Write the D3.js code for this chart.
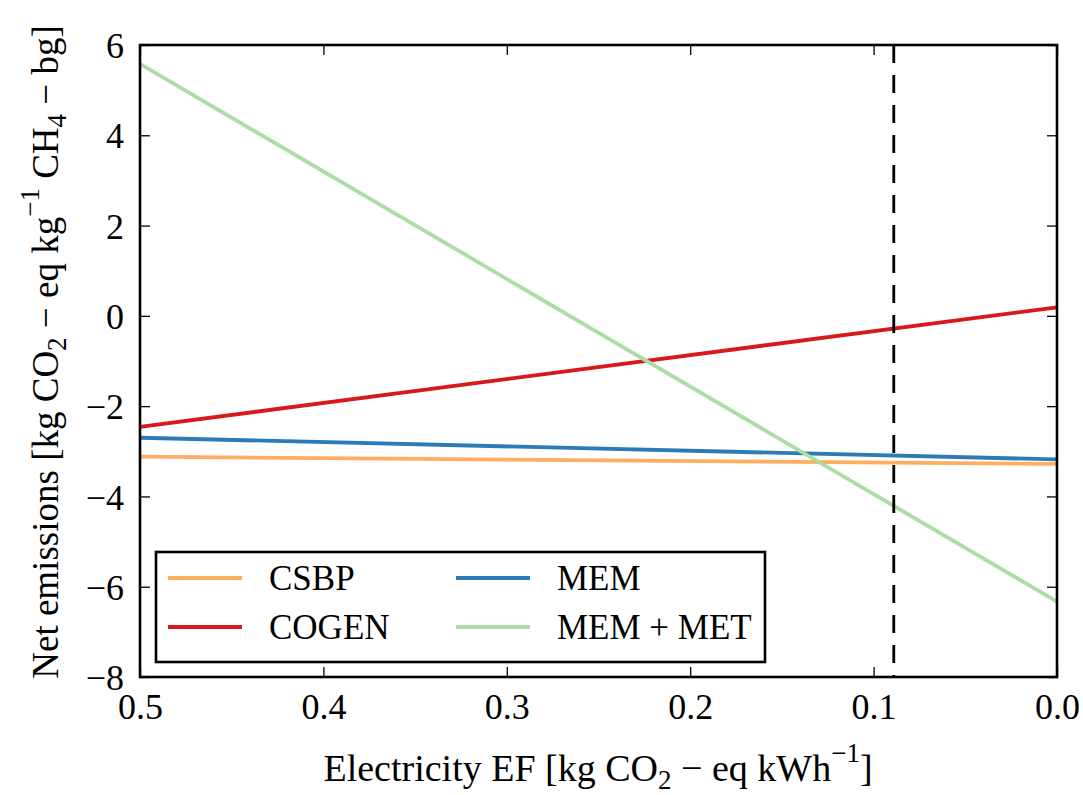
<!DOCTYPE html>
<html lang="en">
<head>
<meta charset="UTF-8">
<title>Net emissions vs electricity EF</title>
<script src="https://d3js.org/d3.v7.min.js"></script>
<style>
  body { margin: 0; background: #fff; }
  svg text { font-family: "Times New Roman", "Liberation Serif", Tinos, "Nimbus Roman", "DejaVu Serif", "Noto Serif", Times, serif !important; }
</style>
</head>
<body>
<svg width="1083" height="795"></svg>
<script>
// electricity emission factor at the two ends of the sweep
var efValues = [0.5, 0.0];
var seriesNames = ["CSBP", "COGEN", "MEM", "MEM + MET"];
var csbp = [-3.12, -3.28];
var cogen = [-2.46, 0.19];
var mem = [-2.70, -3.18];
var memMet = [5.58, -6.33];
var refEF = 0.089;
var xTicks = [0.5, 0.4, 0.3, 0.2, 0.1, 0.0];
var yTicks = [-8, -6, -4, -2, 0, 2, 4, 6];

var colors = ["#fdae61", "#d7191c", "#2c7bb6", "#abdda4"];
var seriesValues = [csbp, cogen, mem, memMet];

var margin = {top: 45, right: 26, bottom: 118, left: 140},
    width = 1083 - margin.left - margin.right,
    height = 795 - margin.top - margin.bottom;

var svg = d3.select("svg").append("g")
    .attr("transform", "translate(" + margin.left + "," + margin.top + ")");

// reversed x axis
var x = d3.scaleLinear().domain([0.5, 0.0]).range([0, width]);
var y = d3.scaleLinear().domain([-8, 6]).range([height, 0]);

var line = d3.line()
    .x(function(d) { return x(d.ef); })
    .y(function(d) { return y(d.v); });

seriesValues.forEach(function(vals, i) {
  var pts = vals.map(function(v, j) { return {ef: efValues[j], v: v}; });
  svg.append("path")
     .datum(pts)
     .attr("fill", "none")
     .attr("stroke", colors[i])
     .attr("stroke-width", 3.8)
     .attr("d", line);
});

// reference line
svg.append("line")
   .attr("x1", x(refEF)).attr("x2", x(refEF))
   .attr("y1", 0).attr("y2", height)
   .attr("stroke", "#000")
   .attr("stroke-width", 2.8)
   .attr("stroke-dasharray", "18,12");

// axes, ticks inside on all four sides
var tickLen = 10;
var fmtX = d3.format(".1f");
var fmtY = function(d) { return d < 0 ? "\u2212" + Math.abs(d) : String(d); };

var axBottom = svg.append("g").attr("transform", "translate(0," + height + ")")
   .call(d3.axisBottom(x).tickValues(xTicks).tickFormat(fmtX).tickSizeInner(-tickLen).tickSizeOuter(0).tickPadding(16));
var axTop = svg.append("g")
   .call(d3.axisTop(x).tickValues(xTicks).tickFormat("").tickSizeInner(-tickLen).tickSizeOuter(0));
var axLeft = svg.append("g")
   .call(d3.axisLeft(y).tickValues(yTicks).tickFormat(fmtY).tickSizeInner(-tickLen).tickSizeOuter(0).tickPadding(16));
var axRight = svg.append("g").attr("transform", "translate(" + width + ",0)")
   .call(d3.axisRight(y).tickValues(yTicks).tickFormat("").tickSizeInner(-tickLen).tickSizeOuter(0));

[axBottom, axTop, axLeft, axRight].forEach(function(g) {
  g.attr("font-family", null);
  g.select(".domain").remove();
  g.selectAll(".tick line").attr("stroke", "#000").attr("stroke-width", 1.3);
  g.selectAll("text").attr("fill", "#000").style("font-size", "36px");
});
axBottom.selectAll("text").attr("dy", "0.71em");
axLeft.selectAll("text").attr("dy", "0.35em");

// frame
svg.append("rect")
   .attr("width", width).attr("height", height)
   .attr("fill", "none").attr("stroke", "#000").attr("stroke-width", 2.6);

// legend
var legend = svg.append("g").attr("transform", "translate(16,507)");
legend.append("rect")
   .attr("width", 609).attr("height", 110)
   .attr("fill", "#fff").attr("stroke", "#000").attr("stroke-width", 2.6);
var legendPos = [[0, 0], [0, 1], [1, 0], [1, 1]];
seriesNames.forEach(function(name, i) {
  var cx = 12 + legendPos[i][0] * 288, cy = 26 + legendPos[i][1] * 49;
  legend.append("line")
     .attr("x1", cx).attr("x2", cx + 74).attr("y1", cy).attr("y2", cy)
     .attr("stroke", colors[i]).attr("stroke-width", 3.8);
  legend.append("text")
     .attr("x", cx + 101).attr("y", cy + 12)
     .style("font-size", "35px")
     .text(name);
});

// x label
var xl = d3.select("svg").append("text")
   .attr("x", 598).attr("y", 781)
   .attr("text-anchor", "middle")
   .style("font-size", "38px");
xl.append("tspan").text("Electricity EF [kg CO");
xl.append("tspan").attr("baseline-shift", "-30%").style("font-size", "27px").text("2");
xl.append("tspan").text(" \u2212 eq kWh");
xl.append("tspan").attr("baseline-shift", "70%").style("font-size", "27px").text("\u22121");
xl.append("tspan").text("]");

// y label
var yl = d3.select("svg").append("text")
   .attr("transform", "translate(58,352) rotate(-90)")
   .attr("text-anchor", "middle")
   .style("font-size", "37px");
yl.append("tspan").text("Net emissions [kg CO");
yl.append("tspan").attr("baseline-shift", "-30%").style("font-size", "27px").text("2");
yl.append("tspan").text(" \u2212 eq kg");
yl.append("tspan").attr("baseline-shift", "70%").style("font-size", "27px").text("\u22121");
yl.append("tspan").text(" CH");
yl.append("tspan").attr("baseline-shift", "-30%").style("font-size", "27px").text("4");
yl.append("tspan").text(" \u2212 bg]");
</script>
</body>
</html>
